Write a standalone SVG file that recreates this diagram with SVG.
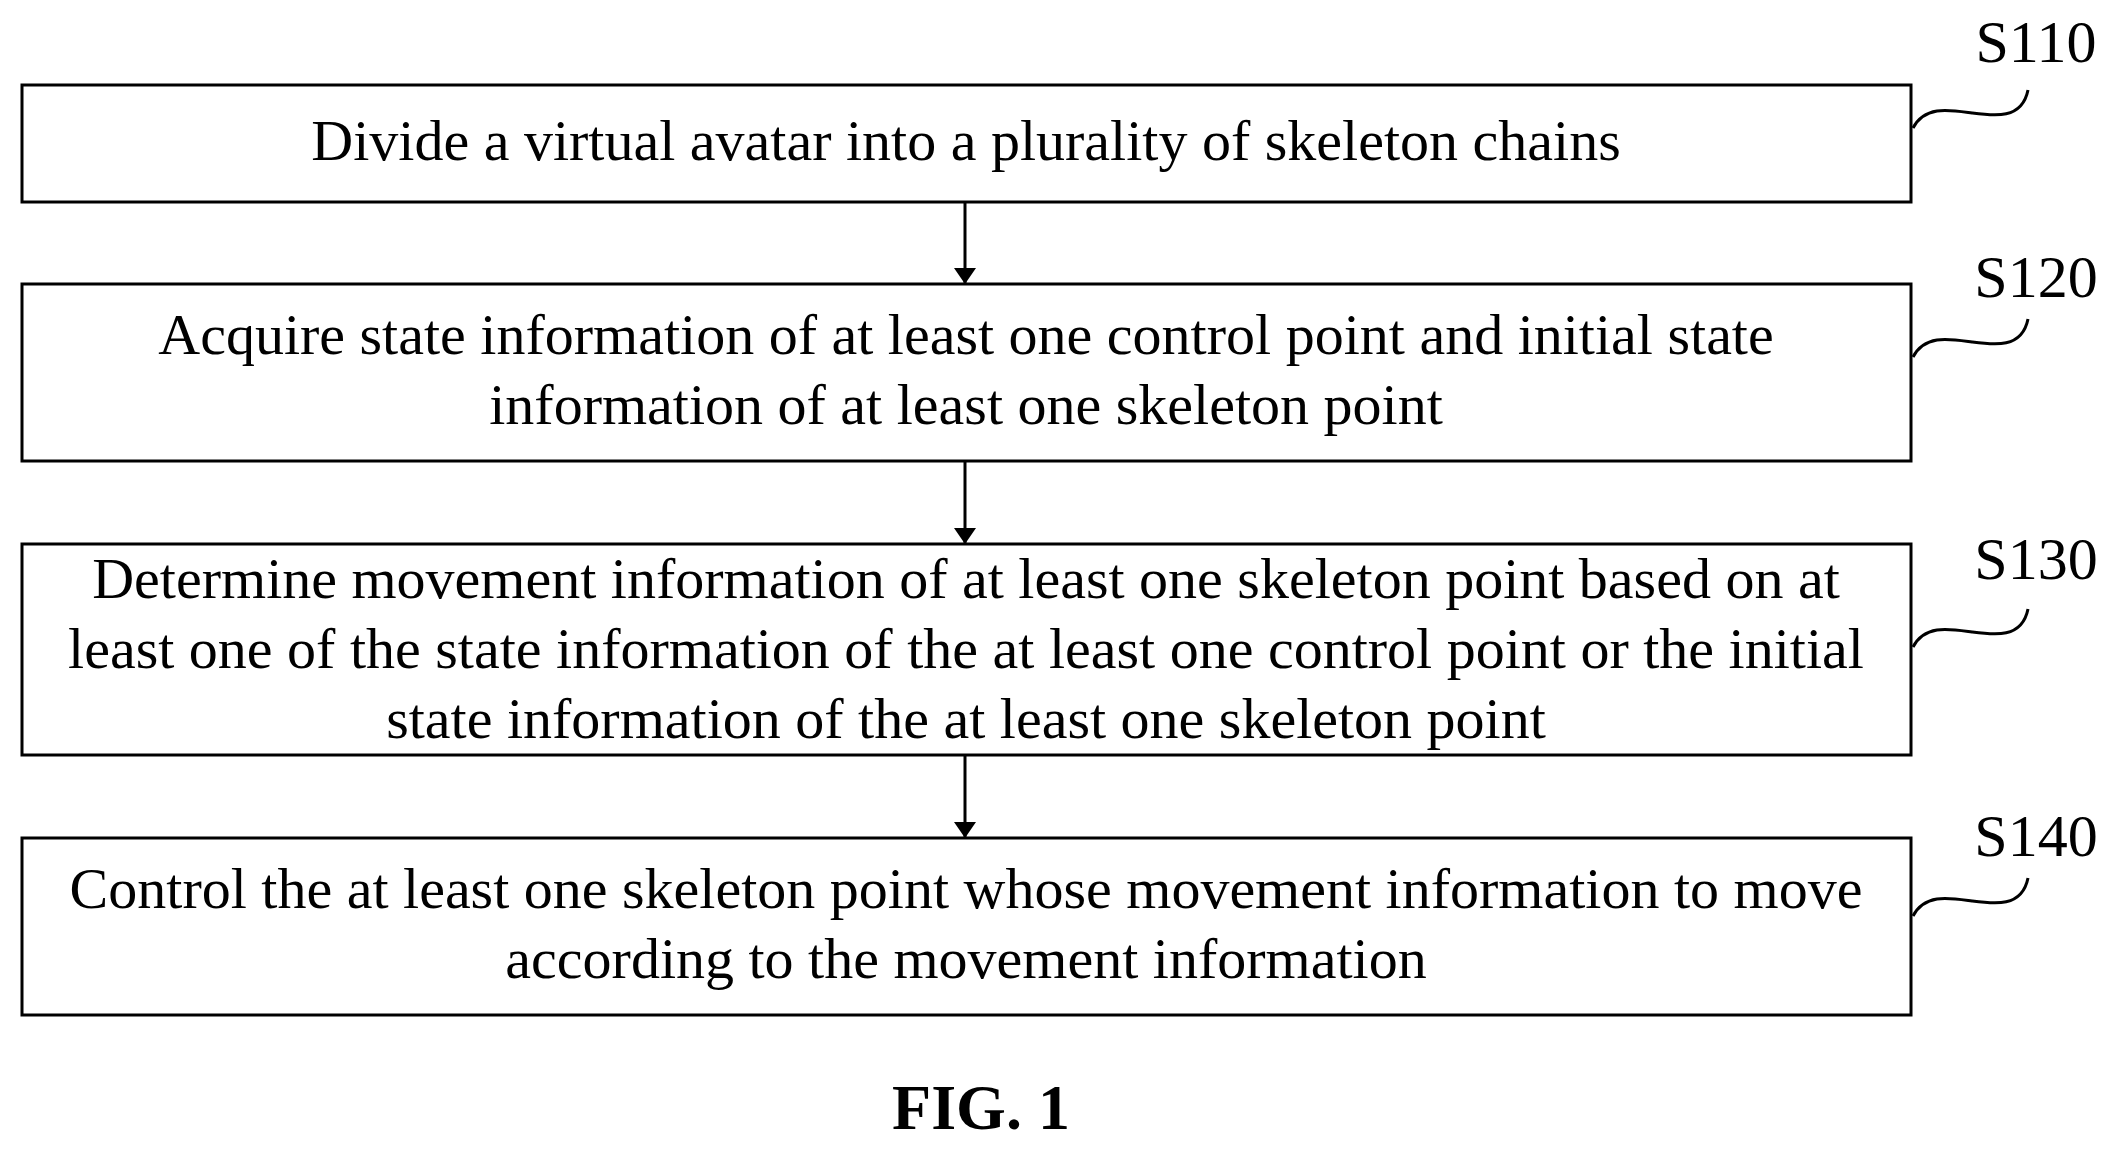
<svg xmlns="http://www.w3.org/2000/svg" width="2113" height="1149" viewBox="0 0 2113 1149">
<style>
.box{fill:#fff;stroke:#000;stroke-width:3}
.t{font-family:"Liberation Serif",serif;font-size:58px;text-anchor:middle;fill:#000}
.lb{font-family:"Liberation Serif",serif;font-size:60px;text-anchor:middle;fill:#000}
.sq{fill:none;stroke:#000;stroke-width:3}
.ar{stroke:#000;stroke-width:3;fill:none}
</style>
<defs>
<marker id="a2" markerWidth="16" markerHeight="22" refX="16" refY="11" orient="auto" markerUnits="userSpaceOnUse"><path d="M0,0 L16,11 L0,22 Z" fill="#000"/></marker></defs>
<rect width="2113" height="1149" fill="#fff"/>
<g id="connectors">
<line class="ar" x1="965" y1="202" x2="965" y2="284" marker-end="url(#a2)"/>
<line class="ar" x1="965" y1="461" x2="965" y2="544" marker-end="url(#a2)"/>
<line class="ar" x1="965" y1="755" x2="965" y2="838" marker-end="url(#a2)"/>
</g>
<g id="S110"><rect class="box" x="22" y="85" width="1889" height="117"/>
<text class="t" x="966" y="160">Divide a virtual avatar into a plurality of skeleton chains</text>
<text class="lb" x="2036" y="62">S110</text>
<path class="sq" d="M1913,128 C1925,105 1950,110 1972,113 S2022,120 2028,90"/></g>
<g id="S120"><rect class="box" x="22" y="284" width="1889" height="177"/>
<text class="t" x="966" y="354">Acquire state information of at least one control point and initial state</text>
<text class="t" x="966" y="424">information of at least one skeleton point</text>
<text class="lb" x="2036" y="297">S120</text>
<path class="sq" d="M1913,357 C1925,334 1950,339 1972,342 S2022,349 2028,319"/></g>
<g id="S130"><rect class="box" x="22" y="544" width="1889" height="211"/>
<text class="t" x="966" y="598">Determine movement information of at least one skeleton point based on at</text>
<text class="t" x="966" y="668">least one of the state information of the at least one control point or the initial</text>
<text class="t" x="966" y="738">state information of the at least one skeleton point</text>
<text class="lb" x="2036" y="579">S130</text>
<path class="sq" d="M1913,647 C1925,624 1950,629 1972,632 S2022,639 2028,609"/></g>
<g id="S140"><rect class="box" x="22" y="838" width="1889" height="177"/>
<text class="t" x="966" y="908">Control the at least one skeleton point whose movement information to move</text>
<text class="t" x="966" y="978">according to the movement information</text>
<text class="lb" x="2036" y="856">S140</text>
<path class="sq" d="M1913,916 C1925,893 1950,898 1972,901 S2022,908 2028,878"/></g>
<text x="981" y="1129" font-family="Liberation Serif,serif" font-size="64" font-weight="bold" text-anchor="middle">FIG. 1</text>
</svg>
